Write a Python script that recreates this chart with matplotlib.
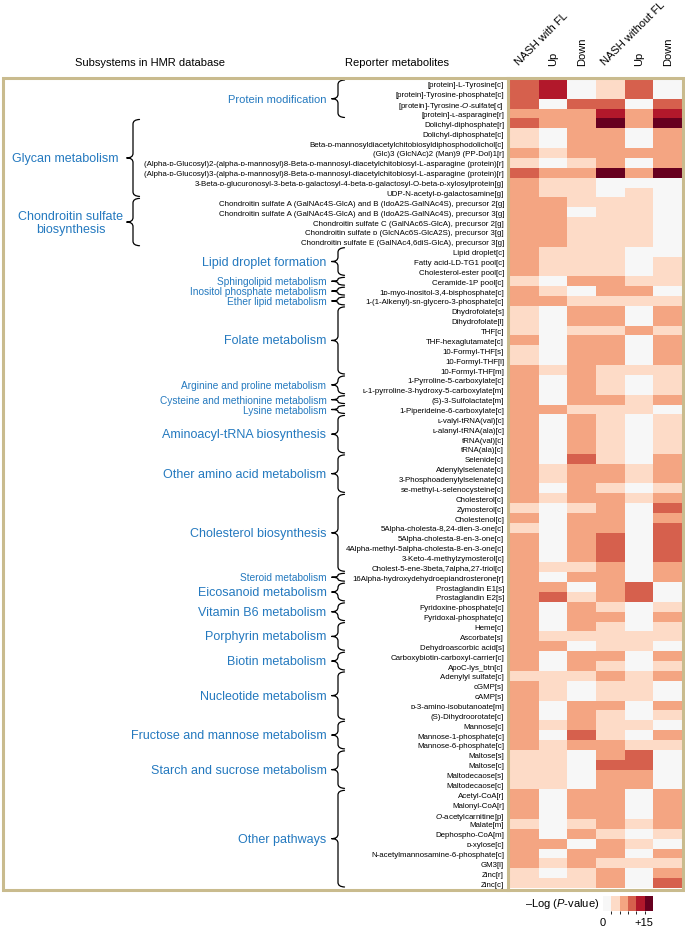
import matplotlib
matplotlib.use('Agg')
import matplotlib.pyplot as plt
from matplotlib.colors import ListedColormap, BoundaryNorm
from matplotlib.cm import ScalarMappable
from matplotlib.path import Path
from matplotlib.patches import PathPatch, Rectangle
import numpy as np

plt.rcParams['font.family'] = ['Liberation Sans', 'DejaVu Sans']
plt.rcParams['mathtext.fontset'] = 'custom'
plt.rcParams['mathtext.rm'] = 'Liberation Sans'
plt.rcParams['mathtext.it'] = 'Liberation Sans:italic'

# ---------------- data ----------------
columns = ["NASH with FL", "Up", "Down", "NASH without FL", "Up", "Down"]

metabolites = [
    "[protein]-L-Tyrosine[c]",
    "[protein]-Tyrosine-phosphate[c]",
    "[protein]-Tyrosine-$\\mathit{O}$-sulfate[c]",
    "[protein]-ʟ-asparagine[r]",
    "Dolichyl-diphosphate[r]",
    "Dolichyl-diphosphate[c]",
    "Beta-ᴅ-mannosyldiacetylchitobiosyldiphosphodolichol[c]",
    "(Glc)3 (GlcNAc)2 (Man)9 (PP-Dol)1[r]",
    "(Alpha-ᴅ-Glucosyl)2-(alpha-ᴅ-mannosyl)8-Beta-ᴅ-mannosyl-diacetylchitobiosyl-L-asparagine (protein)[r]",
    "(Alpha-ᴅ-Glucosyl)3-(alpha-ᴅ-mannosyl)8-Beta-ᴅ-mannosyl-diacetylchitobiosyl-L-asparagine (protein)[r]",
    "3-Beta-ᴅ-glucuronosyl-3-beta-ᴅ-galactosyl-4-beta-ᴅ-galactosyl-O-beta-ᴅ-xylosylprotein[g]",
    "UDP-N-acetyl-ᴅ-galactosamine[g]",
    "Chondroitin sulfate A (GalNAc4S-GlcA) and B (IdoA2S-GalNAc4S), precursor 2[g]",
    "Chondroitin sulfate A (GalNAc4S-GlcA) and B (IdoA2S-GalNAc4S), precursor 3[g]",
    "Chondroitin sulfate C (GalNAc6S-GlcA), precursor 2[g]",
    "Chondroitin sulfate ᴅ (GlcNAc6S-GlcA2S), precursor 3[g]",
    "Chondroitin sulfate E (GalNAc4,6diS-GlcA), precursor 3[g]",
    "Lipid droplet[c]",
    "Fatty acid-LD-TG1 pool[c]",
    "Cholesterol-ester pool[c]",
    "Ceramide-1P pool[c]",
    "1ᴅ-myo-inositol-3,4-bisphosphate[c]",
    "1-(1-Alkenyl)-sn-glycero-3-phosphate[c]",
    "Dhydrofolate[s]",
    "Dihydrofolate[l]",
    "THF[c]",
    "THF-hexaglutamate[c]",
    "10-Formyl-THF[s]",
    "10-Formyl-THF[l]",
    "10-Formyl-THF[m]",
    "1-Pyrroline-5-carboxylate[c]",
    "ʟ-1-pyrroline-3-hydroxy-5-carboxylate[m]",
    "(S)-3-Sulfolactate[m]",
    "1-Piperideine-6-carboxylate[c]",
    "ʟ-valyl-tRNA(val)[c]",
    "ʟ-alanyl-tRNA(ala)[c]",
    "tRNA(val)[c]",
    "tRNA(ala)[c]",
    "Selenide[c]",
    "Adenylylselenate[c]",
    "3-Phosphoadenylylselenate[c]",
    "se-methyl-ʟ-selenocysteine[c]",
    "Cholesterol[c]",
    "Zymosterol[c]",
    "Cholestenol[c]",
    "5Alpha-cholesta-8,24-dien-3-one[c]",
    "5Alpha-cholesta-8-en-3-one[c]",
    "4Alpha-methyl-5alpha-cholesta-8-en-3-one[c]",
    "3-Keto-4-methylzymosterol[c]",
    "Cholest-5-ene-3beta,7alpha,27-triol[c]",
    "16Alpha-hydroxydehydroepiandrosterone[r]",
    "Prostaglandin E1[s]",
    "Prostaglandin E2[s]",
    "Pyridoxine-phosphate[c]",
    "Pyridoxal-phosphate[c]",
    "Heme[c]",
    "Ascorbate[s]",
    "Dehydroascorbic acid[s]",
    "Carboxybiotin-carboxyl-carrier[c]",
    "ApoC-lys_btn[c]",
    "Adenylyl sulfate[c]",
    "cGMP[s]",
    "cAMP[s]",
    "ᴅ-3-amino-isobutanoate[m]",
    "(S)-Dihydroorotate[c]",
    "Mannose[c]",
    "Mannose-1-phosphate[c]",
    "Mannose-6-phosphate[c]",
    "Maltose[s]",
    "Maltose[c]",
    "Maltodecaose[s]",
    "Maltodecaose[c]",
    "Acetyl-CoA[r]",
    "Malonyl-CoA[r]",
    "$\\mathit{O}$-acetylcarnitine[p]",
    "Malate[m]",
    "Dephospho-CoA[m]",
    "ᴅ-xylose[c]",
    "N-acetylmannosamine-6-phosphate[c]",
    "GM3[l]",
    "Zinc[r]",
    "Zinc[c]",
]

# -Log(P-value), estimated per cell
nash_fl = [9, 9, 9, 6, 9, 4, 4, 6, 4, 9,
           6, 6, 6, 6, 6, 6, 6, 6, 6, 6,
           4, 6, 6, 4, 4, 4, 6, 4, 4, 6,
           6, 6, 6, 6, 6, 6, 6, 6, 6, 6,
           6, 6, 6, 4, 6, 4, 6, 6, 6, 6,
           6, 6, 6, 6, 6, 6, 6, 6, 6, 6,
           4, 6, 6, 6, 6, 6, 6, 6, 4, 4,
           4, 4, 6, 6, 6, 4, 6, 6, 6, 6, 4, 4]
nash_fl_up = [11, 11, 1, 6, 6, 1, 1, 4, 1, 6,
              4, 4, 6, 6, 6, 6, 6, 4, 4, 4,
              1, 4, 6, 1, 1, 1, 1, 1, 1, 4,
              1, 1, 1, 6, 1, 1, 1, 1, 1, 4,
              4, 1, 4, 1, 1, 1, 1, 1, 1, 4,
              1, 6, 9, 1, 1, 1, 4, 6, 1, 1,
              4, 4, 4, 1, 1, 4, 1, 4, 4, 4,
              4, 4, 1, 1, 1, 1, 1, 6, 1, 4, 1, 4]
nash_fl_down = [1, 1, 9, 6, 6, 6, 6, 6, 4, 6,
                4, 4, 4, 1, 4, 4, 4, 4, 4, 4,
                6, 1, 4, 6, 6, 4, 6, 6, 6, 6,
                6, 6, 6, 4, 6, 6, 6, 6, 9, 6,
                6, 6, 6, 4, 6, 6, 6, 6, 6, 4,
                6, 1, 4, 6, 6, 6, 4, 1, 6, 6,
                4, 1, 1, 6, 6, 6, 9, 6, 1, 1,
                1, 1, 6, 6, 6, 4, 6, 1, 6, 6, 4, 4]
nash_nofl = [4, 4, 9, 11, 14, 6, 6, 6, 6, 14,
             1, 1, 4, 4, 4, 4, 4, 4, 4, 4,
             6, 6, 4, 6, 6, 4, 6, 6, 6, 4,
             4, 4, 6, 4, 4, 4, 4, 4, 4, 6,
             6, 4, 6, 6, 6, 6, 9, 9, 9, 6,
             6, 6, 6, 4, 6, 4, 4, 4, 6, 4,
             6, 4, 4, 6, 4, 4, 4, 6, 6, 9,
             6, 6, 6, 6, 6, 6, 4, 6, 6, 4, 6, 6]
nash_nofl_up = [9, 9, 1, 6, 6, 1, 1, 6, 1, 6,
                1, 4, 4, 4, 4, 4, 4, 1, 1, 1,
                4, 6, 4, 1, 1, 6, 1, 1, 1, 4,
                1, 1, 4, 4, 1, 1, 1, 1, 1, 4,
                4, 1, 4, 1, 1, 1, 1, 1, 1, 1,
                1, 9, 9, 1, 1, 1, 4, 4, 1, 1,
                4, 4, 4, 1, 1, 4, 1, 4, 9, 9,
                6, 6, 1, 1, 1, 4, 1, 4, 1, 4, 1, 1]
nash_nofl_down = [1, 1, 9, 11, 14, 6, 6, 6, 6, 14,
                  1, 1, 1, 1, 1, 1, 1, 1, 4, 4,
                  4, 1, 4, 6, 6, 4, 6, 6, 6, 4,
                  4, 4, 6, 1, 4, 4, 4, 4, 6, 6,
                  6, 4, 6, 9, 6, 9, 9, 9, 9, 6,
                  6, 1, 1, 4, 6, 4, 4, 1, 6, 4,
                  6, 1, 1, 6, 4, 1, 6, 4, 1, 1,
                  1, 1, 6, 6, 6, 6, 4, 1, 6, 4, 6, 9]

# subsystem groups: (label, first row, last row) 1-based
groups = [
    ("Protein modification", 1, 4),
    ("Glycan metabolism", 5, 12),
    ("Chondroitin sulfate\nbiosynthesis", 13, 17),
    ("Lipid droplet formation", 18, 20),
    ("Sphingolipid metabolism", 21, 21),
    ("Inositol phosphate metabolism", 22, 22),
    ("Ether lipid metabolism", 23, 23),
    ("Folate metabolism", 24, 30),
    ("Arginine and proline metabolism", 31, 32),
    ("Cysteine and methionine metabolism", 33, 33),
    ("Lysine metabolism", 34, 34),
    ("Aminoacyl-tRNA biosynthesis", 35, 38),
    ("Other amino acid metabolism", 39, 42),
    ("Cholesterol biosynthesis", 43, 50),
    ("Steroid metabolism", 51, 51),
    ("Eicosanoid metabolism", 52, 53),
    ("Vitamin B6 metabolism", 54, 55),
    ("Porphyrin metabolism", 56, 58),
    ("Biotin metabolism", 59, 60),
    ("Nucleotide metabolism", 61, 65),
    ("Fructose and mannose metabolism", 66, 68),
    ("Starch and sucrose metabolism", 69, 72),
    ("Other pathways", 73, 82),
]
small_labels = {"Sphingolipid metabolism", "Inositol phosphate metabolism",
                "Ether lipid metabolism", "Arginine and proline metabolism",
                "Cysteine and methionine metabolism", "Lysine metabolism",
                "Steroid metabolism"}
far_left = {"Glycan metabolism", "Chondroitin sulfate\nbiosynthesis"}

cb_bounds = [0, 2.5, 5, 7.5, 10, 12.5, 15]
cb_colors = ['#f7f7f7', '#fddbc7', '#f4a582', '#d6604d', '#b2182b', '#67001f']

# ---------------- figure ----------------
W, H = 685, 929
fig = plt.figure(figsize=(W / 100, H / 100), dpi=100)
fig.patch.set_facecolor('white')

def fx(px):
    return px / W

def fy(py):
    return 1 - py / H

HM_L, HM_R, HM_T, HM_B = 510, 682, 80, 889
nrows = len(metabolites)
row_h = (HM_B - HM_T) / nrows

cmap = ListedColormap(cb_colors)
norm = BoundaryNorm(cb_bounds, cmap.N)

data = np.array([nash_fl, nash_fl_up, nash_fl_down,
                 nash_nofl, nash_nofl_up, nash_nofl_down], dtype=float).T

ax = fig.add_axes([fx(HM_L), fy(HM_B), (HM_R - HM_L) / W, (HM_B - HM_T) / H])
ax.imshow(data, cmap=cmap, norm=norm, aspect='auto', interpolation='nearest')
ax.set_xticks([])
ax.set_yticks(range(nrows))
ax.set_yticklabels(metabolites, fontsize=5.7)
ax.tick_params(axis='y', length=0, pad=4.3)
for s in ax.spines.values():
    s.set_visible(False)

# overlay in pixel coordinates
ov = fig.add_axes([0, 0, 1, 1])
ov.set_xlim(0, W)
ov.set_ylim(H, 0)
ov.axis('off')
ov.patch.set_alpha(0)

blue = '#2479bf'
tan = '#c9bb8e'

def brace(x, y0, y1, w=6.5, tip=6.5):
    ym = (y0 + y1) / 2
    h = y1 - y0
    r = min(4.5, h / 4)
    verts = [(x + w, y0), (x, y0 + 0.3), (x, y0 + r), (x, ym - r),
             (x, ym), (x - tip, ym), (x, ym), (x, ym + r),
             (x, y1 - r), (x, y1 - 0.3), (x + w, y1)]
    codes = [Path.MOVETO, Path.CURVE3, Path.CURVE3, Path.LINETO,
             Path.CURVE3, Path.CURVE3, Path.CURVE3, Path.CURVE3,
             Path.LINETO, Path.CURVE3, Path.CURVE3]
    ov.add_patch(PathPatch(Path(verts, codes), fill=False, lw=0.9,
                           edgecolor='black', capstyle='round'))
    return x - tip, ym

for label, r0, r1 in groups:
    y0 = HM_T + (r0 - 1) * row_h + 1.0
    y1 = HM_T + r1 * row_h - 1.0
    bx = 133 if label in far_left else 338
    tx, ty = brace(bx, y0, y1)
    if label in small_labels:
        fs = 7.3
    elif label == "Protein modification":
        fs = 8
    else:
        fs = 9
    gap = 8 if label == "Glycan metabolism" else (3 if label in far_left else 5)
    ov.text(tx - gap, ty, label, ha='right', va='center', fontsize=fs,
            color=blue, multialignment='center', linespacing=1.1)

# frame
ov.add_patch(Rectangle((3, 78.5), 680, 812, fill=False, lw=2.2, edgecolor=tan))
ov.plot([508, 508], [78.5, 890.5], color=tan, lw=2.2)

# headers
ov.text(150, 63, "Subsystems in HMR database", ha='center', va='center', fontsize=8)
ov.text(397, 63, "Reporter metabolites", ha='center', va='center', fontsize=8)
col_w = (HM_R - HM_L) / len(columns)
for i, c in enumerate(columns):
    cx = HM_L + col_w * (i + 0.5)
    if c.startswith("NASH"):
        ov.text(cx - 4, 67, c, rotation=45, rotation_mode='anchor',
                ha='left', va='bottom', fontsize=8)
    else:
        ov.text(cx, 66, c, rotation=90, rotation_mode='anchor',
                ha='left', va='center', fontsize=8)

# colour key
cax = fig.add_axes([fx(603), fy(912), 50 / W, 15 / H])
cb = fig.colorbar(ScalarMappable(norm=norm, cmap=cmap), cax=cax,
                  orientation='horizontal', ticks=[0, 15])
cb.outline.set_visible(False)
cb.ax.set_xticklabels(['0', '+15'], fontsize=8)
cb.ax.tick_params(length=0, pad=4)
cb.ax.xaxis.get_major_ticks()[1].label1.set_horizontalalignment('right')
ov.text(599, 904.5, "–Log ($\\mathit{P}$-value)", ha='right', va='center', fontsize=8)

fig.savefig('out.png', dpi=100)
